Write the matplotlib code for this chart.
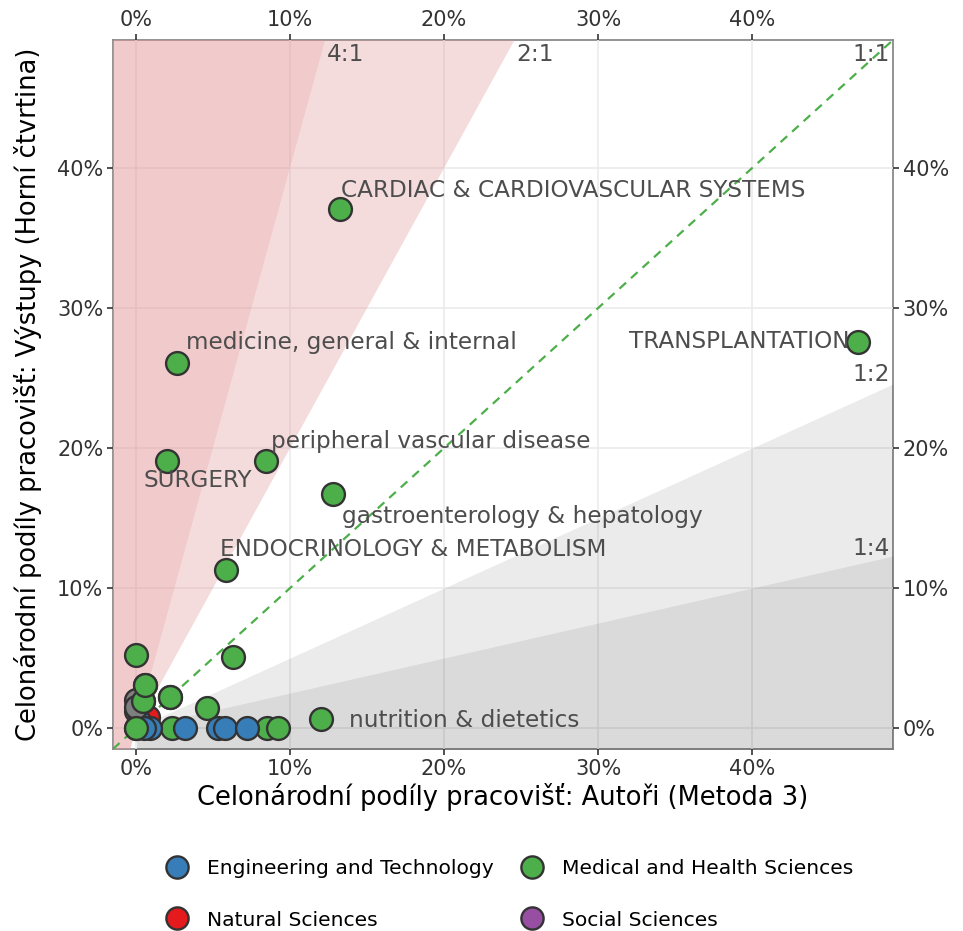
import matplotlib
matplotlib.use("Agg")
import matplotlib.pyplot as plt
import numpy as np
from matplotlib.lines import Line2D

plt.rcParams['font.family'] = ['DejaVu Sans']

# ---------------- data (percent) ----------------
# x: Autoři (Metoda 3), y: Výstupy (Horní čtvrtina)
eng_x = [0.2, 0.9, 3.2, 5.3, 5.8, 7.2, 0.5]
eng_y = [0.5, 0.0, 0.0, 0.0, 0.0, 0.0, 0.0]

nat_x = [0.8]
nat_y = [0.8]

na_x = [0.0, 0.0]
na_y = [2.0, 1.5]

med_x = [0.0, 0.0, 0.6, 0.45, 2.2, 4.6, 6.3, 0.0, 2.3, 8.5, 9.2,
         13.25, 2.66, 46.9, 2.0, 8.44, 12.8, 5.84, 12.0]
med_y = [1.2, 5.2, 3.1, 1.9, 2.2, 1.4, 5.1, 0.0, 0.0, 0.0, 0.0,
         37.07, 26.1, 27.6, 19.1, 19.1, 16.7, 11.3, 0.64]

labels = ["CARDIAC & CARDIOVASCULAR SYSTEMS", "medicine, general & internal",
          "TRANSPLANTATION", "SURGERY", "peripheral vascular disease",
          "gastroenterology & hepatology", "ENDOCRINOLOGY & METABOLISM",
          "nutrition & dietetics"]
label_x = [13.25, 2.66, 46.9, 2.0, 8.44, 12.8, 5.84, 12.0]
label_y = [37.07, 26.1, 27.6, 19.1, 19.1, 16.7, 11.3, 0.64]

ratio_names = ["4:1", "2:1", "1:1", "1:2", "1:4"]
ratio_vals = [4, 2, 1, 0.5, 0.25]

ticks = [0, 10, 20, 30, 40]
tick_labels = ["0%", "10%", "20%", "30%", "40%"]

legend_names = ["Engineering and Technology", "Natural Sciences",
                "Medical and Health Sciences", "Social Sciences"]
legend_colors = ["#377EB8", "#E41A1C", "#4DAF4A", "#984EA3"]

# ---------------- layout ----------------
W, H = 963, 931
fig = plt.figure(figsize=(W / 100, H / 100), dpi=100)
ax = fig.add_axes([113 / W, 1 - 749 / H, (893 - 113) / W, (749 - 40) / H])

xlim = (-1.5, 49.15)
ylim = (-1.5, 49.15)
ax.set_xlim(*xlim)
ax.set_ylim(*ylim)

xs = np.linspace(xlim[0], xlim[1], 200)
pink = (226 / 255, 147 / 255, 149 / 255)
ax.fill_between(xs, 4 * xs, ylim[1] + 10, color=pink, alpha=0.48, lw=0, zorder=1)
ax.fill_between(xs, 2 * xs, np.maximum(4 * xs, 2 * xs), color=pink, alpha=0.32, lw=0, zorder=1)
ax.fill_between(xs, 0.25 * xs, 0.5 * xs, where=xs >= 0, color="black", alpha=0.08, lw=0, zorder=1)
ax.fill_between(xs, ylim[0] - 10, 0.25 * xs, where=xs >= 0, color="black", alpha=0.145, lw=0, zorder=1)
ax.plot(xs, xs, ls=(0, (4, 3)), color="#4DAF4A", lw=1.6, zorder=2)

# ratio labels
tcol = "#4D4D4D"
fs_ann = 16.7
top = ylim[1]
right = xlim[1]
ax.text(top / ratio_vals[0] + 0.1, top - 0.25, ratio_names[0], ha="left", va="top", fontsize=fs_ann, color=tcol, zorder=3)
ax.text(top / ratio_vals[1] + 0.1, top - 0.25, ratio_names[1], ha="left", va="top", fontsize=fs_ann, color=tcol, zorder=3)
ax.text(right - 0.2, top - 0.25, ratio_names[2], ha="right", va="top", fontsize=fs_ann, color=tcol, zorder=3)
ax.text(right - 0.2, right * ratio_vals[3] + 0.2, ratio_names[3], ha="right", va="baseline", fontsize=fs_ann, color=tcol, zorder=3)
ax.text(right - 0.2, right * ratio_vals[4] + 0.1, ratio_names[4], ha="right", va="baseline", fontsize=fs_ann, color=tcol, zorder=3)

# points
pkw = dict(s=270, edgecolors="#333333", linewidths=1.7, zorder=5)
ax.scatter(nat_x, nat_y, c="#E41A1C", **pkw)
ax.scatter(med_x[:11], med_y[:11], c="#4DAF4A", **pkw)
ax.scatter(eng_x, eng_y, c="#377EB8", **pkw)
ax.scatter(na_x, na_y, c="#7F7F7F", **pkw)
ax.scatter(med_x[7:8] + med_x[3:4] + med_x[2:3] + med_x[4:5], med_y[7:8] + med_y[3:4] + med_y[2:3] + med_y[4:5],
           c="#4DAF4A", **pkw)
ax.scatter(med_x[11:], med_y[11:], c="#4DAF4A", **pkw)

# point labels (offsets in pixels: dx, dy, ha)
offsets = [(1, 19, "left"), (9, 20, "left"), (-9, 0, "right"), (-23, -20, "left"),
           (5, 19, "left"), (9, -22, "left"), (-6, 20, "left"), (28, -1, "left")]
for name, lx, ly, (dx, dy, ha) in zip(labels, label_x, label_y, offsets):
    ax.annotate(name, (lx, ly), xytext=(dx, dy), textcoords="offset pixels",
                ha=ha, va="center", fontsize=fs_ann, color=tcol, zorder=6)

# axes styling
ax.grid(True, color="#EBEBEB", lw=1.2, zorder=0)
ax.set_axisbelow(True)
for s in ax.spines.values():
    s.set_color("#8A8A8A")
    s.set_linewidth(1.3)
    s.set_zorder(0.5)

ax.set_xticks(ticks)
ax.set_xticklabels(tick_labels)
ax.set_yticks(ticks)
ax.set_yticklabels(tick_labels)
ax.tick_params(axis="both", which="both", direction="out", length=4, width=1.2,
               color="#333333", labelsize=15, labelcolor="#333333",
               top=True, right=True, labeltop=True, labelright=True, pad=3)

ax.set_xlabel("Celonárodní podíly pracovišť: Autoři (Metoda 3)", fontsize=18.5, color="black", labelpad=3)
ax.set_ylabel("Celonárodní podíly pracovišť: Výstupy (Horní čtvrtina)", fontsize=18.5, color="black", labelpad=11)

handles = [Line2D([0], [0], marker="o", ls="", markersize=16, markerfacecolor=c,
                  markeredgecolor="#333333", markeredgewidth=1.7) for c in legend_colors]
fig.legend(handles, legend_names, loc="center", bbox_to_anchor=(509 / W, 1 - 894.5 / H), ncol=2,
           frameon=False, fontsize=14.6, handlelength=1.2, handletextpad=0.85,
           columnspacing=1.33, labelspacing=1.58)

fig.savefig("out.png", dpi=100)
